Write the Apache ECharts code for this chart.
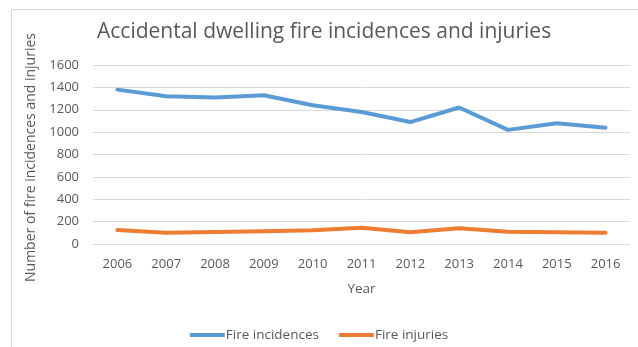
<!DOCTYPE html>
<html><head><meta charset="utf-8">
<script src="https://cdn.jsdelivr.net/npm/echarts@6/dist/echarts.min.js"></script>
<style>html,body{margin:0;padding:0;background:#fff}#c{width:638px;height:347px}</style>
</head><body><div id="c"></div>
<script>
const years = ['2006','2007','2008','2009','2010','2011','2012','2013','2014','2015','2016'];
const fireIncidences = [1380,1320,1310,1330,1240,1180,1090,1220,1020,1080,1040];
const fireInjuries = [125,100,107,113,122,145,105,140,110,105,100];
const yTicks = {min:0, max:1600, interval:200};
const font = 'Open Sans';
const chart = echarts.init(document.getElementById('c'), null, {renderer:'canvas'});
chart.setOption({
  animation:false,
  backgroundColor:'#fff',
  graphic:[{type:'rect',shape:{x:11.5,y:9.5,width:700,height:400},style:{fill:'none',stroke:'#d9d9d9',lineWidth:1},silent:true}],
  title:{text:'Accidental dwelling fire incidences and injuries',left:92,top:17,
    textStyle:{fontFamily:font,fontWeight:'normal',fontSize:21,color:'#595959'}},
  grid:{left:93,right:8,top:65,bottom:103,containLabel:false},
  legend:{bottom:0,left:'center',itemWidth:35,itemHeight:4,itemGap:20,icon:'rect',
    textStyle:{fontFamily:font,fontSize:13.5,color:'#595959',padding:[0,0,0,-4]},
    data:['Fire incidences','Fire injuries']},
  xAxis:{type:'category',data:years,boundaryGap:true,name:'Year',nameLocation:'middle',nameGap:38,
    nameTextStyle:{fontFamily:font,fontSize:13.5,color:'#595959'},
    axisLine:{show:false},axisTick:{show:false},
    axisLabel:{fontFamily:font,fontSize:13,color:'#595959',margin:14}},
  yAxis:{type:'value',min:yTicks.min,max:yTicks.max,interval:yTicks.interval,
    name:'Number of fire incidences and injuries',nameLocation:'middle',nameGap:52,nameRotate:90,
    nameTextStyle:{fontFamily:font,fontSize:14,color:'#595959',padding:[0,6,0,0]},
    axisLine:{show:false},axisTick:{show:false},
    axisLabel:{fontFamily:font,fontSize:13,color:'#595959',margin:14,formatter:v=>String(v)},
    splitLine:{lineStyle:{color:'#d9d9d9',width:1}}},
  series:[
    {name:'Fire incidences',type:'line',data:fireIncidences,symbol:'none',
      lineStyle:{color:'#5b9bd5',width:4,cap:'round',join:'round'},itemStyle:{color:'#5b9bd5'}},
    {name:'Fire injuries',type:'line',data:fireInjuries,symbol:'none',
      lineStyle:{color:'#ed7d31',width:4,cap:'round',join:'round'},itemStyle:{color:'#ed7d31'}}
  ]
});
</script></body></html>
